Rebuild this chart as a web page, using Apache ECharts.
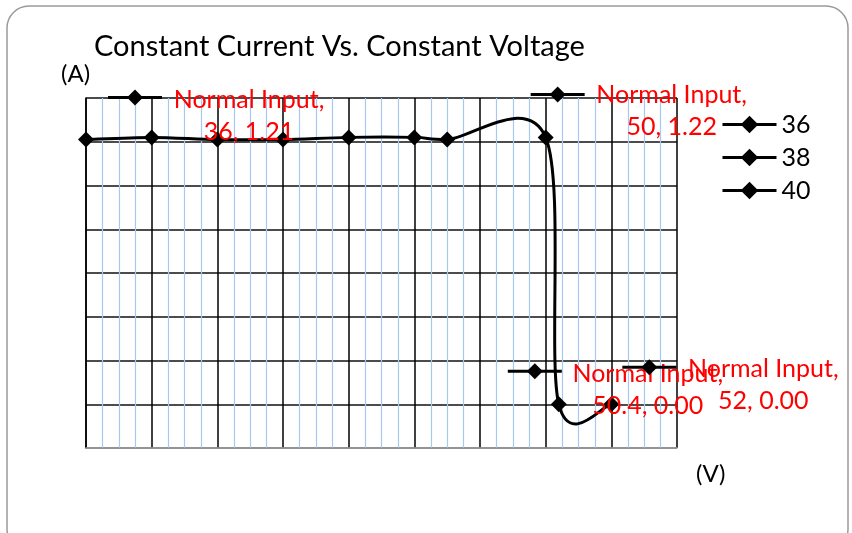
<!DOCTYPE html>
<html>
<head>
<meta charset="utf-8">
<script src="https://cdn.jsdelivr.net/npm/echarts@6/dist/echarts.min.js"></script>
<style>
  html, body { margin: 0; padding: 0; background: #fff; }
  #chart { width: 852px; height: 533px; }
</style>
</head>
<body>
<div id="chart"></div>
<script>
const FONT = "Lato, 'Liberation Sans', sans-serif";

// measured voltage (V) and current (A)
const voltage = [36, 38, 40, 42, 44, 46, 47, 50, 50.4, 52];
const current = [1.21, 1.22, 1.21, 1.21, 1.22, 1.22, 1.21, 1.22, 0, 0];
const legendNames = ["36", "38", "40"];
const labelSeries = "Normal Input";
// indexes of the points that carry a data label
const labelled = [0, 7, 8, 9];
// pixel layout of each label: [markerDx, markerDy, textDx, textDy]
const labelLayout = [
  [49, -42, 163, -24],
  [12, -43, 126, -26],
  [-24, -33, 89, -14],
  [38, -37, 152, -19],
];

const chart = echarts.init(document.getElementById("chart"));

const points = voltage.map((v, k) => [v, current[k]]);

// markers (and legend entries); the smoothed line itself is drawn by the custom series below
const lineSeries = legendNames.map(function (name, i) {
  return {
    name: name,
    type: "line",
    data: i === 0 ? points : [],
    symbol: "diamond",
    symbolSize: 16,
    itemStyle: { color: "#000" },
    lineStyle: { color: "#000", width: 3, opacity: 0 },
    z: 4,
  };
});

// spreadsheet style smoothing: cubic bezier per segment, tangents from neighbours
function renderSegment(params, api) {
  const i = params.dataIndex;
  if (i >= points.length - 1) return null;
  const c = (k) => api.coord(points[Math.max(0, Math.min(points.length - 1, k))]);
  const p0 = c(i - 1), p1 = c(i), p2 = c(i + 1), p3 = c(i + 2);
  const c1 = [p1[0] + (p2[0] - p0[0]) / 6, p1[1] + (p2[1] - p0[1]) / 6];
  const c2 = [p2[0] - (p3[0] - p1[0]) / 6, p2[1] - (p3[1] - p1[1]) / 6];
  return {
    type: "bezierCurve",
    shape: {
      x1: p1[0], y1: p1[1],
      cpx1: c1[0], cpy1: c1[1],
      cpx2: c2[0], cpy2: c2[1],
      x2: p2[0], y2: p2[1],
    },
    style: { stroke: "#000", lineWidth: 3, fill: null },
  };
}

const labelData = labelled.map((k) => points[k]);

function renderLabel(params, api) {
  const p = api.coord([api.value(0), api.value(1)]);
  const o = labelLayout[params.dataIndex];
  const mx = p[0] + o[0];
  const my = p[1] + o[1];
  const x = api.value(0);
  const y = api.value(1);
  return {
    type: "group",
    children: [
      {
        type: "line",
        shape: { x1: mx - 27, y1: my, x2: mx + 27, y2: my },
        style: { stroke: "#000", lineWidth: 3 },
      },
      {
        type: "polygon",
        shape: { points: [[mx, my - 8], [mx + 8, my], [mx, my + 8], [mx - 8, my]] },
        style: { fill: "#000" },
      },
      {
        type: "text",
        style: {
          text: labelSeries + ",\n" + x + ", " + y.toFixed(2),
          x: p[0] + o[2],
          y: p[1] + o[3],
          align: "center",
          verticalAlign: "middle",
          fill: "#ff0000",
          fontSize: 25,
          fontFamily: FONT,
          lineHeight: 32,
        },
      },
    ],
  };
}

chart.setOption({
  animation: false,
  textStyle: { fontFamily: FONT },
  grid: { left: 86, right: 175, top: 98, bottom: 85 },
  legend: {
    data: legendNames,
    orient: "vertical",
    left: 721,
    top: 112,
    padding: 0,
    itemWidth: 54,
    itemHeight: 22,
    itemGap: 8,
    itemStyle: { color: "#000" },
    lineStyle: { color: "#000", width: 3, opacity: 1 },
    textStyle: { fontSize: 25, color: "#000", fontFamily: FONT },
  },
  xAxis: {
    type: "value",
    min: 36,
    max: 54,
    interval: 2,
    axisLabel: { show: false },
    axisTick: { show: false },
    axisLine: { show: true, onZero: false, lineStyle: { color: "#aaa", width: 1.5 } },
    splitLine: { show: true, lineStyle: { color: "#000", width: 1.5 } },
    minorTick: { show: false, splitNumber: 4 },
    minorSplitLine: { show: true, lineStyle: { color: "#a9c8f0", width: 1.2 } },
  },
  yAxis: {
    type: "value",
    min: -0.2,
    max: 1.4,
    interval: 0.2,
    axisLabel: { show: false },
    axisTick: { show: false },
    axisLine: { show: true, onZero: false, lineStyle: { color: "#000", width: 1.5 } },
    splitLine: { show: true, lineStyle: { color: "#111", width: 1.5 } },
  },
  graphic: [
    {
      type: "rect",
      shape: { x: 7, y: 6, width: 841, height: 545, r: 22 },
      style: { fill: "none", stroke: "#9a9a9a", lineWidth: 1.5 },
      silent: true,
    },
    {
      type: "text",
      left: 94,
      top: 32,
      style: { text: "Constant Current Vs. Constant Voltage", fontSize: 29, fill: "#000", fontFamily: FONT },
    },
    {
      type: "text",
      left: 61,
      top: 62,
      style: { text: "(A)", fontSize: 24, fill: "#000", fontFamily: FONT },
    },
    {
      type: "text",
      left: 696,
      top: 462,
      style: { text: "(V)", fontSize: 24, fill: "#000", fontFamily: FONT },
    },
  ],
  series: lineSeries.concat([
    {
      type: "custom",
      coordinateSystem: "cartesian2d",
      data: points,
      renderItem: renderSegment,
      clip: false,
      silent: true,
      z: 3,
    },
    {
      type: "custom",
      coordinateSystem: "cartesian2d",
      data: labelData,
      renderItem: renderLabel,
      clip: false,
      silent: true,
      z: 5,
    },
  ]),
});
</script>
</body>
</html>
